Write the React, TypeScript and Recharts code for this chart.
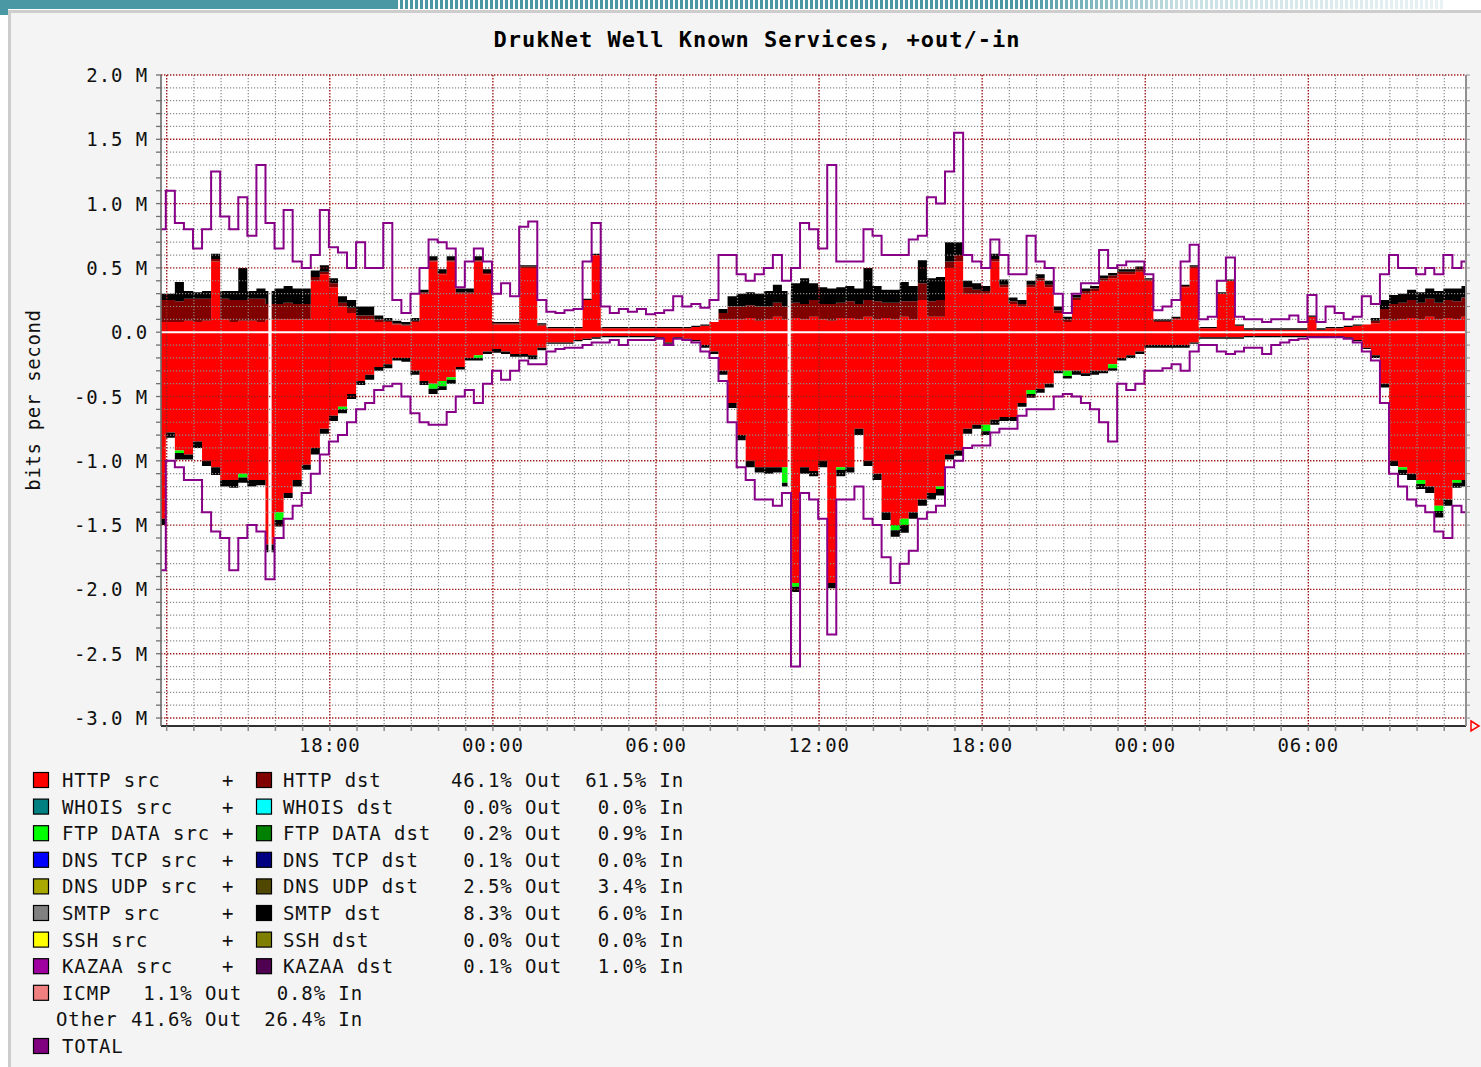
import React from "react";
import {
  ComposedChart,
  Area,
  Line,
  XAxis,
  YAxis,
  CartesianGrid,
  ReferenceLine,
  ReferenceArea,
} from "recharts";

const FONT = '"DejaVu Sans Mono", "Liberation Mono", monospace';

// time axis: hours after 12:00 of day 1, 20-minute samples
const T0 = -0.2;
const DT = 1 / 3;

// ---- OUT (positive) ----
const httpSrcOut = [
  0.08,
  0.08, 0.08, 0.09, 0.08, 0.09, 0.55, 0.1, 0.08, 0.09, 0.09, 0.08, 0.1,
  0.1, 0.1, 0.1, 0.1, 0.4, 0.45, 0.35, 0.2, 0.15, 0.1, 0.1, 0.08,
  0.08, 0.06, 0.05, 0.08, 0.3, 0.55, 0.45, 0.55, 0.3, 0.3, 0.55, 0.45,
  0.06, 0.06, 0.06, 0.5, 0.5, 0.05, 0.03, 0.03, 0.03, 0.03, 0.25, 0.6,
  0.03, 0.03, 0.03, 0.03, 0.03, 0.03, 0.03, 0.03, 0.03, 0.03, 0.04, 0.05,
  0.08, 0.1, 0.1, 0.1, 0.11, 0.09, 0.1, 0.12, 0.1, 0.11, 0.1, 0.12,
  0.1, 0.09, 0.11, 0.11, 0.1, 0.12, 0.1, 0.11, 0.1, 0.12, 0.1, 0.25,
  0.12, 0.12, 0.5, 0.55, 0.3, 0.3, 0.3, 0.55, 0.35, 0.22, 0.2, 0.35,
  0.4, 0.35, 0.15, 0.08, 0.25, 0.3, 0.32, 0.4, 0.42, 0.45, 0.45, 0.47,
  0.4, 0.08, 0.08, 0.1, 0.35, 0.5, 0.03, 0.03, 0.3, 0.4, 0.05, 0.02,
  0.02, 0.02, 0.02, 0.02, 0.02, 0.02, 0.12, 0.02, 0.03, 0.03, 0.04, 0.05,
  0.06, 0.07, 0.1, 0.09, 0.1, 0.11, 0.1, 0.12, 0.1, 0.11, 0.1, 0.12,
];

const httpDstOut = [
  0.17,
  0.17, 0.16, 0.17, 0.18, 0.17, 0.02, 0.16, 0.17, 0.16, 0.17, 0.18, 0.12,
  0.12, 0.13, 0.12, 0.12, 0.03, 0.02, 0.03, 0.03, 0.04, 0.03, 0.03, 0.02,
  0.01, 0.01, 0.01, 0.01, 0.01, 0.01, 0.01, 0.01, 0.01, 0.01, 0.01, 0.01,
  0.01, 0.01, 0.01, 0.01, 0.01, 0.01, 0, 0, 0, 0, 0, 0,
  0, 0, 0, 0, 0, 0, 0, 0, 0, 0, 0, 0,
  0, 0.05, 0.1, 0.1, 0.1, 0.11, 0.1, 0.11, 0.1, 0.12, 0.12, 0.13,
  0.12, 0.13, 0.12, 0.13, 0.12, 0.13, 0.14, 0.12, 0.13, 0.12, 0.14, 0.13,
  0.12, 0.13, 0.05, 0.05, 0.05, 0.03, 0.02, 0.02, 0.02, 0.02, 0.02, 0.02,
  0.02, 0.02, 0.02, 0.02, 0.02, 0.02, 0.02, 0.02, 0.02, 0.02, 0.02, 0.02,
  0.01, 0.01, 0.01, 0.01, 0.01, 0.01, 0, 0, 0, 0, 0, 0,
  0, 0, 0, 0, 0, 0, 0, 0, 0, 0, 0, 0,
  0, 0.02, 0.08, 0.13, 0.13, 0.14, 0.13, 0.14, 0.13, 0.14, 0.14, 0.15,
];

const smtpDstOut = [
  0.05,
  0.05, 0.15, 0.06, 0.05, 0.06, 0.04, 0.06, 0.07, 0.25, 0.06, 0.08, 0.1,
  0.12, 0.13, 0.12, 0.12, 0.05, 0.05, 0.04, 0.05, 0.06, 0.07, 0.07, 0.03,
  0.02, 0.02, 0.02, 0.02, 0.02, 0.03, 0.03, 0.03, 0.03, 0.03, 0.03, 0.03,
  0.01, 0.01, 0.01, 0.01, 0.01, 0.01, 0.01, 0.01, 0.01, 0.01, 0.01, 0.01,
  0.01, 0.01, 0.01, 0.01, 0.01, 0.01, 0.01, 0.01, 0.01, 0.01, 0.01, 0.01,
  0, 0.03, 0.08, 0.1, 0.1, 0.1, 0.12, 0.14, 0.12, 0.15, 0.2, 0.13,
  0.13, 0.12, 0.12, 0.12, 0.12, 0.25, 0.12, 0.1, 0.1, 0.15, 0.12, 0.18,
  0.18, 0.18, 0.15, 0.1, 0.05, 0.05, 0.04, 0.04, 0.04, 0.03, 0.03, 0.03,
  0.03, 0.03, 0.03, 0.02, 0.02, 0.02, 0.02, 0.02, 0.02, 0.02, 0.02, 0.02,
  0.01, 0.01, 0.01, 0.01, 0.01, 0.01, 0.01, 0.01, 0.01, 0.01, 0.01, 0.01,
  0.01, 0.01, 0.01, 0.01, 0.01, 0.01, 0.01, 0.01, 0.01, 0.01, 0.01, 0.01,
  0, 0.02, 0.07, 0.07, 0.07, 0.08, 0.08, 0.08, 0.09, 0.09, 0.1, 0.09,
];

const totalOut = [
  0.8,
  1.1, 0.85, 0.8, 0.65, 0.8, 1.25, 0.9, 0.8, 1.05, 0.75, 1.3, 0.85,
  0.65, 0.95, 0.55, 0.5, 0.6, 0.95, 0.66, 0.62, 0.5, 0.7, 0.5, 0.5,
  0.85, 0.25, 0.15, 0.3, 0.5, 0.72, 0.7, 0.65, 0.35, 0.55, 0.65, 0.55,
  0.3, 0.38, 0.28, 0.82, 0.86, 0.25, 0.16, 0.15, 0.17, 0.18, 0.55, 0.85,
  0.2, 0.15, 0.18, 0.16, 0.18, 0.14, 0.15, 0.17, 0.28, 0.2, 0.22, 0.19,
  0.25, 0.6, 0.6, 0.45, 0.4, 0.45, 0.5, 0.6, 0.4, 0.5, 0.85, 0.8,
  0.65, 1.3, 0.55, 0.55, 0.55, 0.8, 0.75, 0.6, 0.6, 0.6, 0.72, 0.75,
  1.05, 1.0, 1.25, 1.55, 0.6, 0.55, 0.5, 0.72, 0.6, 0.45, 0.45, 0.75,
  0.55, 0.5, 0.3, 0.15, 0.3, 0.38, 0.38, 0.64, 0.5, 0.52, 0.55, 0.55,
  0.45, 0.17, 0.2, 0.25, 0.55, 0.68, 0.1, 0.12, 0.4, 0.58, 0.12, 0.1,
  0.1, 0.08, 0.1, 0.1, 0.13, 0.08, 0.29, 0.08, 0.2, 0.15, 0.1, 0.12,
  0.28, 0.22, 0.45, 0.6, 0.5, 0.5, 0.45, 0.5, 0.45, 0.6, 0.5, 0.55,
];

// ---- IN (negative) ----
const httpIn = [
  -1.45,
  -0.78, -0.92, -0.95, -0.85, -1.0, -1.05, -1.15, -1.15, -1.1, -1.15, -1.15, -1.65,
  -1.4, -1.25, -1.15, -1.03, -0.9, -0.75, -0.65, -0.58, -0.48, -0.38, -0.33, -0.27,
  -0.25, -0.2, -0.2, -0.3, -0.38, -0.4, -0.38, -0.35, -0.27, -0.2, -0.18, -0.15,
  -0.13, -0.15, -0.17, -0.17, -0.18, -0.12, -0.08, -0.08, -0.08, -0.06, -0.05, -0.04,
  -0.03, -0.03, -0.03, -0.03, -0.03, -0.03, -0.04, -0.08, -0.04, -0.05, -0.06, -0.1,
  -0.15, -0.3, -0.55, -0.8, -1.0, -1.05, -1.05, -1.05, -1.05, -1.95, -1.05, -1.08,
  -1.0, -1.95, -1.05, -1.05, -0.75, -1.0, -1.1, -1.4, -1.5, -1.45, -1.4, -1.3,
  -1.25, -1.2, -0.95, -0.92, -0.75, -0.72, -0.72, -0.68, -0.66, -0.66, -0.55, -0.45,
  -0.44, -0.4, -0.3, -0.3, -0.3, -0.32, -0.3, -0.3, -0.25, -0.2, -0.18, -0.15,
  -0.1, -0.1, -0.1, -0.1, -0.1, -0.08, -0.04, -0.04, -0.04, -0.04, -0.04, -0.03,
  -0.03, -0.03, -0.03, -0.03, -0.03, -0.03, -0.03, -0.03, -0.03, -0.03, -0.04, -0.06,
  -0.12, -0.18, -0.4, -1.0, -1.05, -1.1, -1.15, -1.2, -1.35, -1.3, -1.15, -1.15,
];

const ftpIn = [
  0,
  0, -0.02, 0, 0, 0, 0, 0, 0, -0.03, 0, 0, 0,
  -0.06, 0, 0, 0, 0, 0, 0, -0.02, 0, 0, 0, 0,
  0, 0, 0, 0, 0, -0.04, -0.04, -0.02, 0, 0, -0.02, 0,
  0, 0, 0, 0, 0, 0, 0, 0, 0, 0, 0, 0,
  0, 0, 0, 0, 0, 0, 0, 0, 0, 0, 0, 0,
  0, 0, 0, 0, 0, 0, 0, 0, -0.12, -0.03, 0, 0,
  0, 0, -0.02, 0, 0, 0, 0, 0, -0.04, -0.05, 0, 0,
  0, -0.02, 0, 0, 0, 0, -0.05, 0, 0, 0, 0, -0.03,
  0, 0, 0, -0.04, 0, 0, 0, 0, -0.03, 0, 0, 0,
  0, 0, 0, 0, 0, 0, 0, 0, 0, 0, 0, 0,
  0, 0, 0, 0, 0, 0, 0, 0, 0, 0, 0, 0,
  0, 0, 0, 0, -0.02, 0, -0.03, 0, -0.04, 0, -0.02, 0,
];

const smtpIn = [
  -0.05,
  -0.04, -0.05, -0.04, -0.05, -0.04, -0.06, -0.05, -0.06, -0.04, -0.05, -0.04, -0.06,
  -0.05, -0.04, -0.05, -0.04, -0.05, -0.04, -0.04, -0.03, -0.04, -0.03, -0.04, -0.03,
  -0.03, -0.02, -0.03, -0.03, -0.03, -0.04, -0.03, -0.03, -0.02, -0.02, -0.02, -0.02,
  -0.03, -0.02, -0.02, -0.02, -0.03, -0.02, -0.01, -0.01, -0.01, -0.01, -0.01, -0.01,
  -0.01, -0.01, -0.01, -0.01, -0.01, -0.01, -0.01, -0.01, -0.01, -0.01, -0.01, -0.02,
  -0.02, -0.03, -0.04, -0.04, -0.05, -0.04, -0.05, -0.04, -0.03, -0.04, -0.05, -0.04,
  -0.05, -0.04, -0.05, -0.04, -0.05, -0.04, -0.05, -0.06, -0.05, -0.06, -0.05, -0.05,
  -0.05, -0.05, -0.04, -0.04, -0.04, -0.03, -0.03, -0.04, -0.03, -0.03, -0.03, -0.03,
  -0.03, -0.03, -0.02, -0.02, -0.03, -0.02, -0.03, -0.02, -0.02, -0.02, -0.02, -0.02,
  -0.02, -0.02, -0.02, -0.02, -0.02, -0.01, -0.01, -0.01, -0.01, -0.01, -0.01, -0.01,
  -0.01, -0.01, -0.01, -0.01, -0.01, -0.01, -0.01, -0.01, -0.01, -0.01, -0.01, -0.01,
  -0.01, -0.02, -0.03, -0.04, -0.04, -0.05, -0.04, -0.05, -0.05, -0.05, -0.04, -0.05,
];

const totalIn = [
  -1.85,
  -1.0, -1.05, -1.15, -1.15, -1.4, -1.55, -1.6, -1.85, -1.6, -1.5, -1.55, -1.92,
  -1.6, -1.45, -1.35, -1.25, -1.1, -0.95, -0.85, -0.8, -0.7, -0.6, -0.55, -0.45,
  -0.42, -0.4, -0.5, -0.63, -0.7, -0.72, -0.72, -0.62, -0.5, -0.45, -0.55, -0.4,
  -0.3, -0.37, -0.3, -0.22, -0.25, -0.25, -0.15, -0.13, -0.12, -0.12, -0.1, -0.08,
  -0.08, -0.06, -0.1, -0.06, -0.06, -0.06, -0.05, -0.1, -0.05, -0.06, -0.08, -0.15,
  -0.2, -0.38, -0.7, -1.05, -1.15, -1.3, -1.3, -1.35, -1.25, -2.6, -1.25, -1.3,
  -1.45, -2.35, -1.3, -1.3, -1.2, -1.45, -1.5, -1.75, -1.95, -1.8, -1.7, -1.45,
  -1.4, -1.35, -1.05, -1.0, -0.9, -0.88, -0.88, -0.78, -0.75, -0.75, -0.65, -0.6,
  -0.6, -0.6, -0.5, -0.48, -0.5, -0.55, -0.6, -0.7, -0.85, -0.4, -0.45, -0.4,
  -0.3, -0.3, -0.28, -0.25, -0.3, -0.15, -0.1, -0.1, -0.15, -0.17, -0.15, -0.12,
  -0.12, -0.17, -0.1, -0.08, -0.06, -0.05, -0.04, -0.04, -0.04, -0.04, -0.05, -0.08,
  -0.15, -0.22, -0.55, -1.1, -1.2, -1.3, -1.35, -1.4, -1.55, -1.6, -1.35, -1.4,
];

// unknown-data gaps (hours)
const gapStarts = [3.74, 22.84];
const gapEnds = [3.86, 22.96];

// legend
const legendSrc = ["HTTP src", "WHOIS src", "FTP DATA src", "DNS TCP src", "DNS UDP src", "SMTP src", "SSH src", "KAZAA src"];
const legendDst = ["HTTP dst", "WHOIS dst", "FTP DATA dst", "DNS TCP dst", "DNS UDP dst", "SMTP dst", "SSH dst", "KAZAA dst"];
const srcColors = ["#ff0000", "#008080", "#00ff00", "#0000ff", "#a8a800", "#808080", "#ffff00", "#a000a0"];
const dstColors = ["#800000", "#00ffff", "#008000", "#000080", "#504800", "#000000", "#808000", "#500050"];
const pctOut = ["46.1%", "0.0%", "0.2%", "0.1%", "2.5%", "8.3%", "0.0%", "0.1%"];
const pctIn = ["61.5%", "0.0%", "0.9%", "0.0%", "3.4%", "6.0%", "0.0%", "1.0%"];
const icmpPct = ["1.1%", "0.8%"];
const otherPct = ["41.6%", "26.4%"];

const times = httpSrcOut.map((_, i) => T0 + i * DT);
const data = times.map((t, i) => ({
  t,
  httpSrcOut: httpSrcOut[i],
  httpDstOut: httpDstOut[i],
  smtpDstOut: smtpDstOut[i],
  totalOut: totalOut[i],
  httpIn: httpIn[i],
  ftpIn: ftpIn[i],
  smtpIn: smtpIn[i],
  totalIn: totalIn[i],
}));

const yAll: number[] = [];
for (let i = -30; i <= 20; i++) yAll.push(i / 10);
const isMajorY = (v: number) => Math.abs(v * 2 - Math.round(v * 2)) < 1e-6;
const yMajor = yAll.filter(isMajorY);
const yMinor = yAll.filter((v) => !isMajorY(v));
const xHours: number[] = [];
for (let h = 0; h < 48; h++) xHours.push(h);
const xMajor = xHours.filter((h) => h % 6 === 0);
const xMinor = xHours.filter((h) => h % 6 !== 0);

const fmtY = (v: number) => (Math.abs(v) < 1e-6 ? "0.0" : `${v.toFixed(1)} M`);
const fmtX = (h: number) => `${String((12 + h) % 24).padStart(2, "0")}:00`;

const textStyle = { letterSpacing: "0.9px" };

const YTick = (props: any) => {
  const { x, y, payload } = props;
  const v = payload.value as number;
  if (!isMajorY(v)) return <g />;
  return (
    <text x={x + 1} y={y + 7} textAnchor="end" fontFamily={FONT} fontSize={19} fill="#111" style={textStyle}>
      {fmtY(v)}
    </text>
  );
};

const XTick = (props: any) => {
  const { x, y, payload } = props;
  const h = payload.value as number;
  if (h % 6 !== 0 || h === 0) return <g />;
  return (
    <text x={x} y={y + 17} textAnchor="middle" fontFamily={FONT} fontSize={19} fill="#111" style={textStyle}>
      {fmtX(h)}
    </text>
  );
};

const EmptyTick = () => <g />;

const ROW0 = 780;
const ROWH = 26.6;

const Swatch = ({ x, cy, color }: { x: number; cy: number; color: string }) => (
  <rect x={x + 0.5} y={cy - 7.5} width={15} height={15} fill={color} stroke="#000" strokeWidth={1.2} />
);

const T = ({ x, y, anchor, children }: any) => (
  <text x={x} y={y} textAnchor={anchor || "start"} fontFamily={FONT} fontSize={19} fill="#111" style={textStyle}>
    {children}
  </text>
);

const CURVE = "step";

export default function App() {
  return (
    <div style={{ position: "absolute", left: 0, top: 0, width: 1481, height: 1067, background: "#fff", overflow: "hidden" }}>
      <div style={{ position: "absolute", left: 0, top: 0, width: 395, height: 9, background: "#4a98a4" }} />
      <div style={{ position: "absolute", left: 0, top: 0, width: 8, height: 15, background: "#4a98a4" }} />
      <div
        style={{
          position: "absolute",
          left: 395,
          top: 0,
          width: 1050,
          height: 9,
          background: "repeating-linear-gradient(90deg,#4a98a4 0px,#4a98a4 3px,#ffffff 3px,#ffffff 5px)",
          WebkitMaskImage: "linear-gradient(90deg,#000 0%,#000 60%,rgba(0,0,0,0.3) 75%,rgba(0,0,0,0.12) 100%)",
          maskImage: "linear-gradient(90deg,#000 0%,#000 60%,rgba(0,0,0,0.3) 75%,rgba(0,0,0,0.12) 100%)",
        }}
      />
      <div
        style={{
          position: "absolute",
          left: 8,
          top: 10,
          width: 1473,
          height: 1057,
          background: "#f4f4f4",
          borderLeft: "3px solid #cdcdcd",
          borderTop: "3px solid #cdcdcd",
          boxSizing: "border-box",
        }}
      />
      <div style={{ position: "absolute", left: 0, top: 0 }}>
        <ComposedChart width={1481} height={766} data={data} margin={{ top: 75, right: 9, bottom: 0, left: 81 }}>
          <CartesianGrid horizontal={false} vertical={false} fill="#ffffff" zIndex={-100} />
          <XAxis
            dataKey="t"
            type="number"
            domain={[-0.21, 47.8]}
            allowDataOverflow
            ticks={xHours}
            interval={0}
            tick={<XTick />}
            tickSize={5}
            tickMargin={4}
            height={40}
            axisLine={{ stroke: "#303030", strokeWidth: 2 }}
            tickLine={{ stroke: "#8a8a8a", strokeWidth: 1.5 }}
          />
          <YAxis
            type="number"
            domain={[-3.062, 2]}
            allowDataOverflow
            ticks={yAll}
            interval={0}
            tick={<YTick />}
            tickSize={5}
            tickMargin={9}
            width={80}
            axisLine={{ stroke: "#606060", strokeWidth: 1.5 }}
            tickLine={{ stroke: "#707070", strokeWidth: 1.3 }}
          />
          <YAxis
            yAxisId="right"
            orientation="right"
            type="number"
            domain={[-3.062, 2]}
            allowDataOverflow
            ticks={yAll}
            interval={0}
            tick={<EmptyTick />}
            tickSize={4}
            width={6}
            axisLine={{ stroke: "#909090", strokeWidth: 2 }}
            tickLine={{ stroke: "#909090" }}
          />

          <Area dataKey="httpSrcOut" stackId="out" type={CURVE} fill="#ff0000" fillOpacity={1} stroke="none" isAnimationActive={false} zIndex={100} />
          <Area dataKey="httpDstOut" stackId="out" type={CURVE} fill="#800000" fillOpacity={1} stroke="none" isAnimationActive={false} zIndex={100} />
          <Area dataKey="smtpDstOut" stackId="out" type={CURVE} fill="#000000" fillOpacity={1} stroke="none" isAnimationActive={false} zIndex={100} />
          <Area dataKey="httpIn" stackId="in" type={CURVE} fill="#ff0000" fillOpacity={1} stroke="none" isAnimationActive={false} zIndex={100} />
          <Area dataKey="ftpIn" stackId="in" type={CURVE} fill="#00ff00" fillOpacity={1} stroke="none" isAnimationActive={false} zIndex={100} />
          <Area dataKey="smtpIn" stackId="in" type={CURVE} fill="#000000" fillOpacity={1} stroke="none" isAnimationActive={false} zIndex={100} />

          {gapStarts.map((g, i) => (
            <ReferenceArea key={"gap" + i} x1={g} x2={gapEnds[i]} y1={-3.0} y2={2} fill="#ffffff" fillOpacity={1} stroke="none" zIndex={110} />
          ))}

          <CartesianGrid
            horizontalValues={yMinor}
            verticalValues={xMinor}
            stroke="#8c8c8c"
            strokeWidth={1.2}
            strokeDasharray="1.2 1.8"
            zIndex={120}
          />
          <CartesianGrid
            horizontalValues={yMajor}
            verticalValues={xMajor}
            stroke="#a01c1c"
            strokeWidth={1.4}
            strokeDasharray="1.4 1.6"
            zIndex={130}
          />
          <ReferenceLine y={0} stroke="#ffffff" strokeWidth={2} zIndex={140} />

          <Line dataKey="totalOut" type={CURVE} stroke="#880088" strokeWidth={2} dot={false} isAnimationActive={false} zIndex={400} />
          <Line dataKey="totalIn" type={CURVE} stroke="#880088" strokeWidth={2} dot={false} isAnimationActive={false} zIndex={400} />
        </ComposedChart>
      </div>

      <svg width={1481} height={1067} style={{ position: "absolute", left: 0, top: 0, pointerEvents: "none" }}>
        <text x={757} y={47} textAnchor="middle" fontFamily={FONT} fontSize={22} fontWeight="bold" fill="#000" style={{ letterSpacing: "1px" }}>
          DrukNet Well Known Services, +out/-in
        </text>
        <text
          x={0}
          y={0}
          transform="translate(40,400) rotate(-90)"
          textAnchor="middle"
          fontFamily={FONT}
          fontSize={19}
          fill="#111"
          style={{ letterSpacing: "0.65px" }}
        >
          bits per second
        </text>
        <polygon points="1471,721 1479,726 1471,731" fill="none" stroke="#ff0000" strokeWidth={1.5} />

        {legendSrc.map((name, i) => {
          const cy = ROW0 + i * ROWH;
          const by = cy + 7;
          return (
            <g key={name}>
              <Swatch x={33} cy={cy} color={srcColors[i]} />
              <T x={62} y={by}>{name}</T>
              <T x={222} y={by}>+</T>
              <Swatch x={256} cy={cy} color={dstColors[i]} />
              <T x={283} y={by}>{legendDst[i]}</T>
              <T x={562} y={by} anchor="end">{pctOut[i] + " Out"}</T>
              <T x={684} y={by} anchor="end">{pctIn[i] + " In"}</T>
            </g>
          );
        })}
        <g>
          <Swatch x={33} cy={ROW0 + 8 * ROWH} color="#f08080" />
          <T x={62} y={ROW0 + 8 * ROWH + 7}>ICMP</T>
          <T x={242} y={ROW0 + 8 * ROWH + 7} anchor="end">{icmpPct[0] + " Out"}</T>
          <T x={363} y={ROW0 + 8 * ROWH + 7} anchor="end">{icmpPct[1] + " In"}</T>
        </g>
        <g>
          <T x={56} y={ROW0 + 9 * ROWH + 7}>Other</T>
          <T x={242} y={ROW0 + 9 * ROWH + 7} anchor="end">{otherPct[0] + " Out"}</T>
          <T x={363} y={ROW0 + 9 * ROWH + 7} anchor="end">{otherPct[1] + " In"}</T>
        </g>
        <g>
          <Swatch x={33} cy={ROW0 + 10 * ROWH} color="#800080" />
          <T x={62} y={ROW0 + 10 * ROWH + 7}>TOTAL</T>
        </g>
      </svg>
    </div>
  );
}
